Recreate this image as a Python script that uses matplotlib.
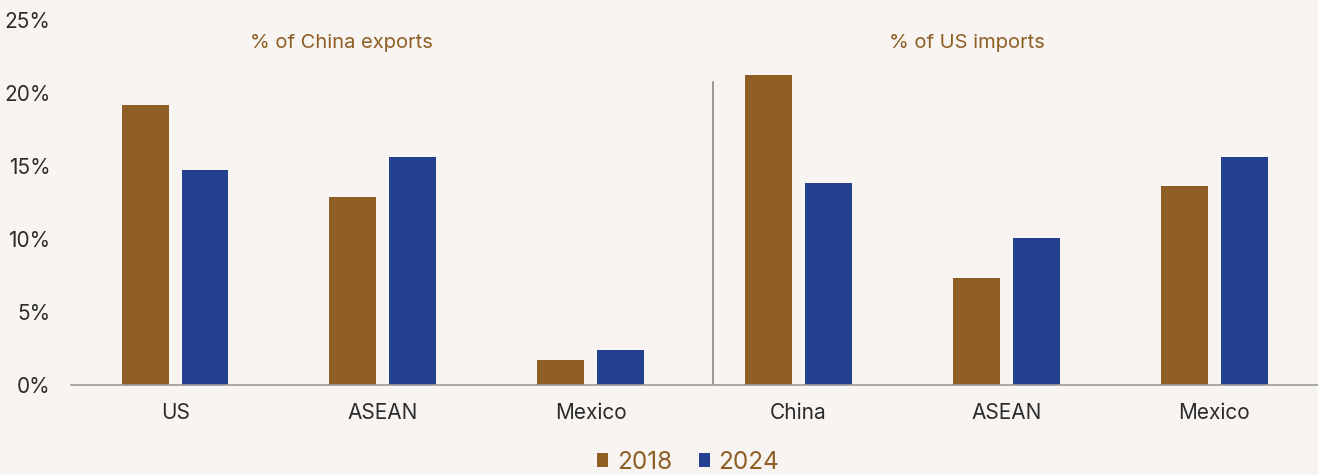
import matplotlib.pyplot as plt
import numpy as np

categories = ["US", "ASEAN", "Mexico", "China", "ASEAN", "Mexico"]
share_2018 = [19.2, 12.9, 1.7, 21.2, 7.3, 13.6]
share_2024 = [14.7, 15.6, 2.4, 13.8, 10.1, 15.6]
panel_titles = ["% of China exports", "% of US imports"]
yticks = [0, 5, 10, 15, 20, 25]

BG = "#F8F4F1"
BROWN = "#8E5E24"
NAVY = "#24408E"


def main():
    plt.rcParams['font.family'] = ['Inter', 'DejaVu Sans']
    fig = plt.figure(figsize=(13.18, 4.75), dpi=100, facecolor=BG)
    ax = fig.add_axes([0.054, 0.1895, 0.946, 0.7685], facecolor=BG)

    x = np.arange(len(categories))
    w = 0.226
    off = 0.144
    ax.bar(x - off, share_2018, w, color=BROWN, label="2018")
    ax.bar(x + off, share_2024, w, color=NAVY, label="2024")

    ax.set_xlim(-0.5, 5.5)
    ax.set_ylim(0, 25)
    ax.set_yticks(yticks)
    ax.set_yticklabels([f"{t}%" for t in yticks])
    ax.set_xticks(x)
    ax.set_xticklabels(categories)
    ax.tick_params(axis='both', length=0, labelsize=15, colors="#2b2b2b")
    ax.tick_params(axis='x', pad=13)
    ax.tick_params(axis='y', pad=15)

    for s in ["top", "right", "left"]:
        ax.spines[s].set_visible(False)
    ax.spines["bottom"].set_color("#9a9a9a")
    ax.spines["bottom"].set_linewidth(1.2)

    # divider between the two panels
    ax.plot([2.59, 2.59], [0, 20.75], color="#8a8a8a", lw=1.2)

    ax.text(0.8, 23.4, panel_titles[0], ha="center", va="center",
            color=BROWN, fontsize=14.5)
    ax.text(3.81, 23.4, panel_titles[1], ha="center", va="center",
            color=BROWN, fontsize=14.5)

    leg = fig.legend(loc="center", bbox_to_anchor=(0.522, 0.027), ncol=2,
                     frameon=False, fontsize=17.5, handlelength=0.45,
                     handleheight=0.45, handletextpad=0.35, columnspacing=1.1)
    for t in leg.get_texts():
        t.set_color(BROWN)

    plt.savefig("out.png", facecolor=BG)


if __name__ == '__main__':
    main()
